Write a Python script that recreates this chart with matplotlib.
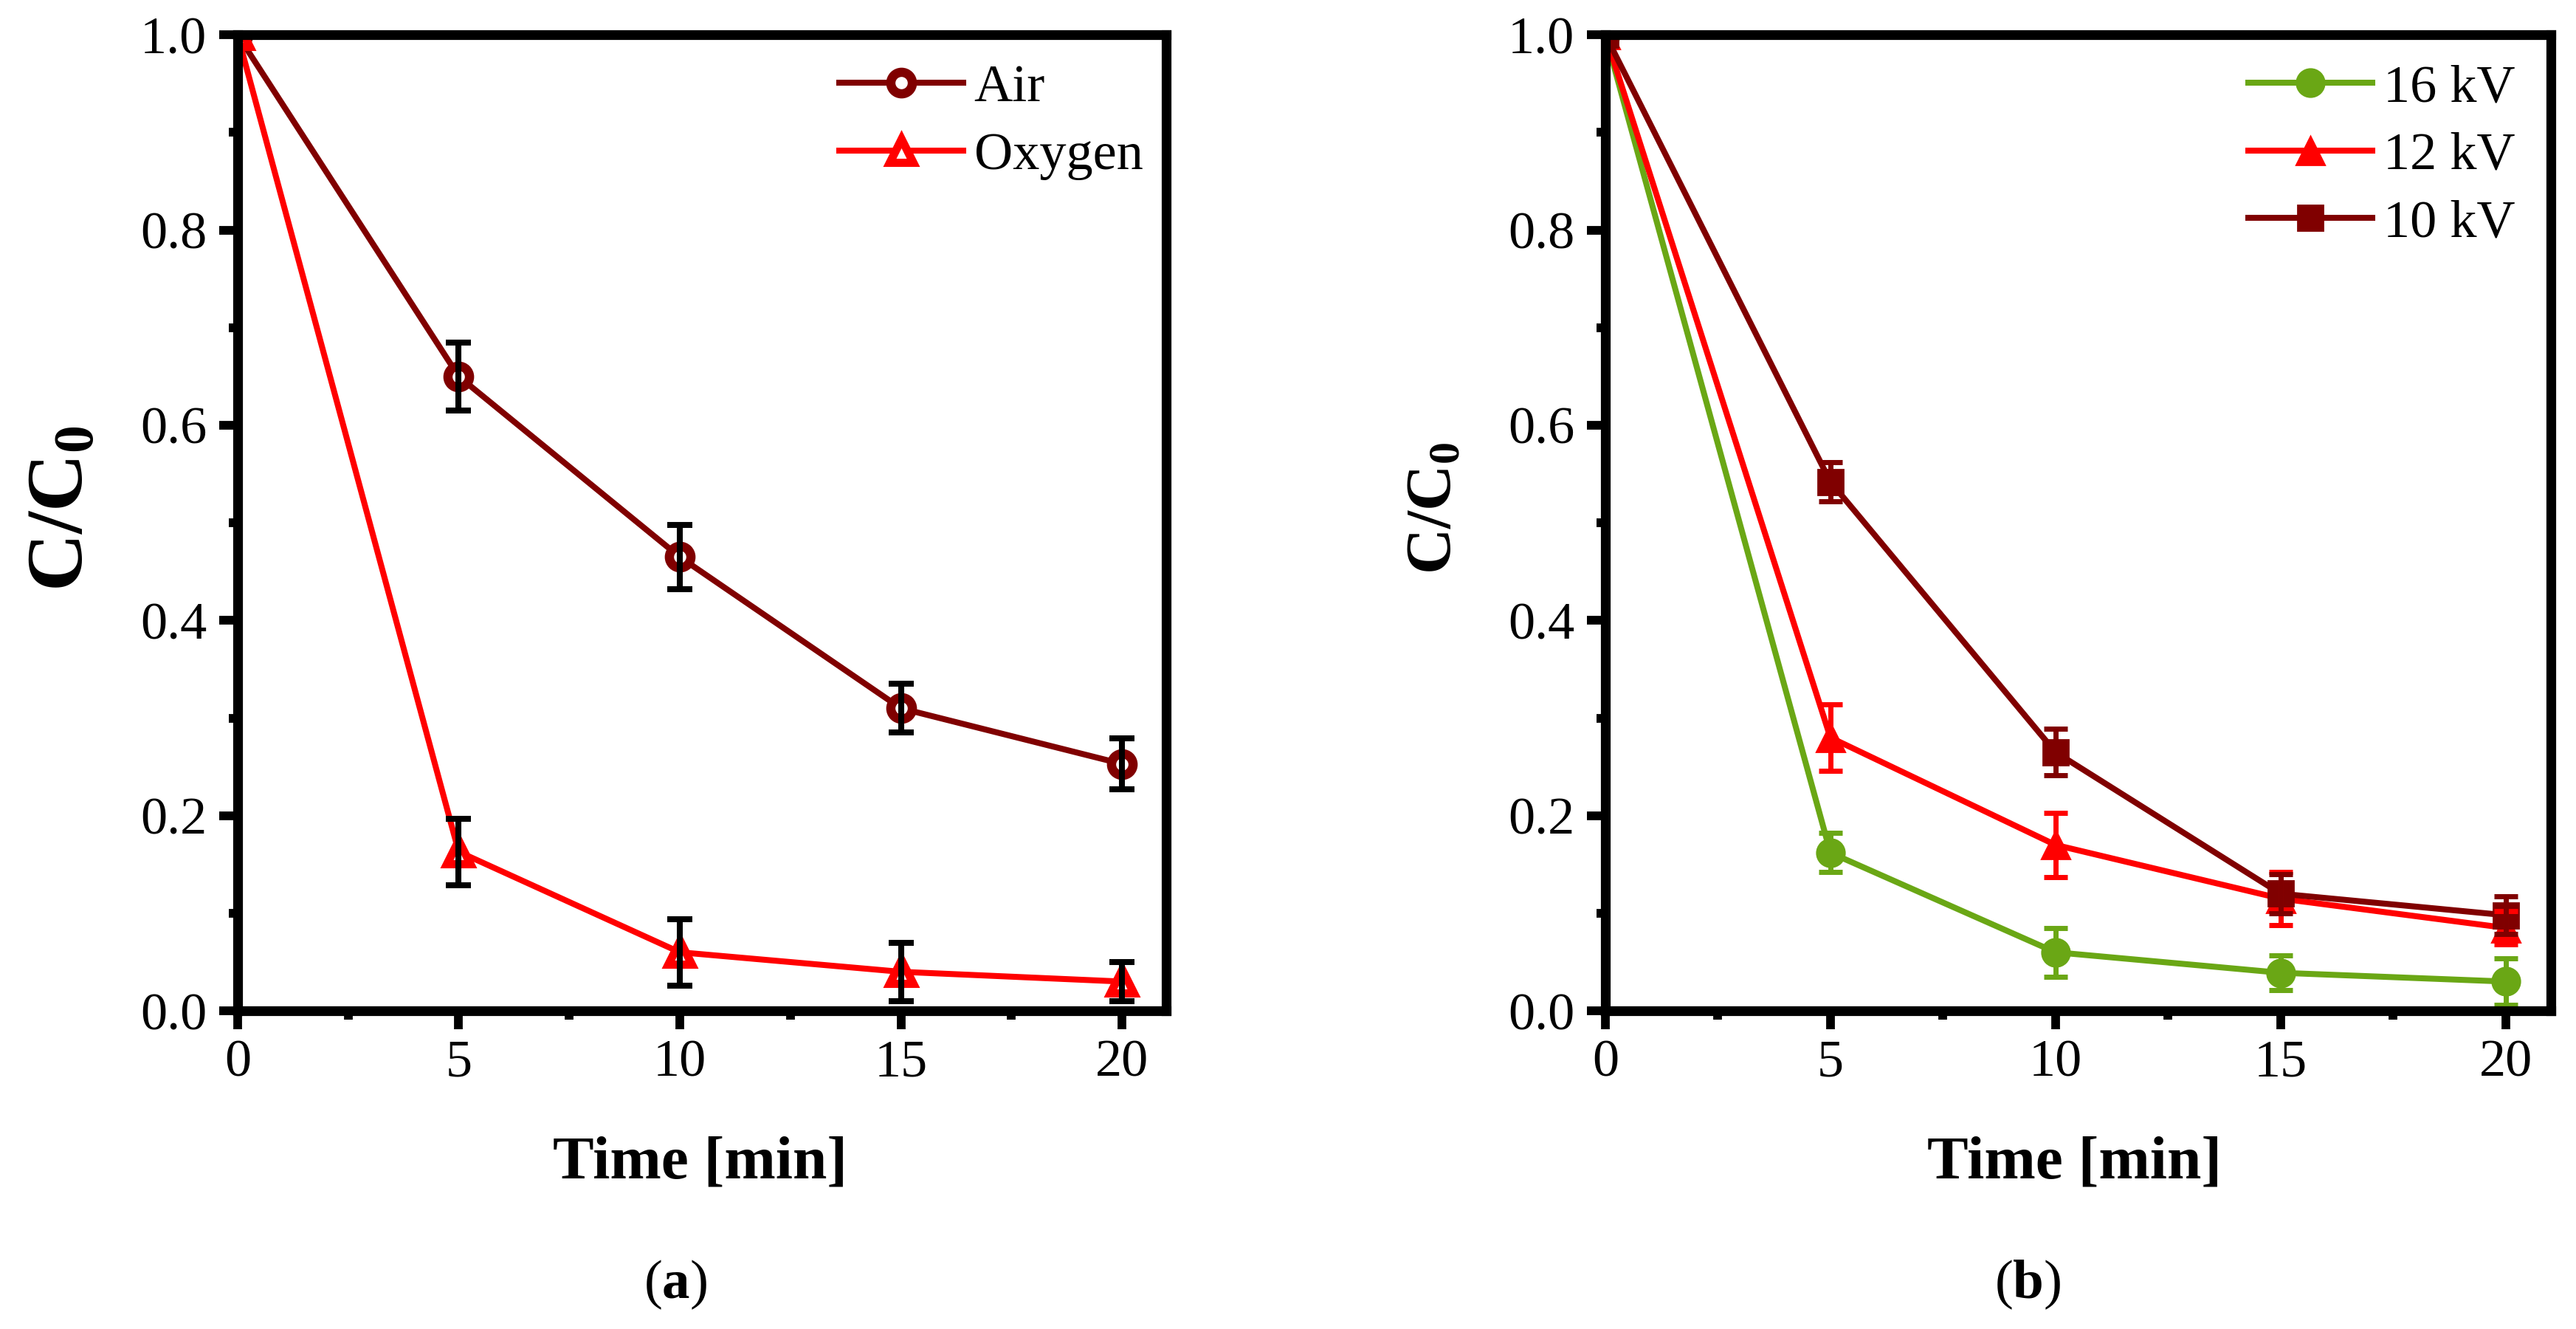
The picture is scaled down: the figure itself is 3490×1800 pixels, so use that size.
import numpy as np
import matplotlib
matplotlib.use('Agg')
import matplotlib.pyplot as plt

plt.rcParams['font.family'] = ['Liberation Serif', 'DejaVu Serif']
plt.rcParams['mathtext.fontset'] = 'custom'
plt.rcParams['mathtext.rm'] = 'Liberation Serif'
plt.rcParams['mathtext.bf'] = 'Liberation Serif:bold'
plt.rcParams['mathtext.it'] = 'Liberation Serif:italic'

# dati
time = [0, 5, 10, 15, 20]

# (a) gas
air = [1.0, 0.65, 0.465, 0.31, 0.253]
air_err = [0.0, 0.035, 0.033, 0.025, 0.026]
oxygen = [1.0, 0.163, 0.06, 0.04, 0.03]
oxygen_err = [0.0, 0.034, 0.034, 0.03, 0.02]

# (b) tensione
kv16 = [1.0, 0.162, 0.06, 0.039, 0.03]
kv16_err = [0.0, 0.02, 0.025, 0.018, 0.024]
kv12 = [1.0, 0.28, 0.17, 0.115, 0.085]
kv12_err = [0.0, 0.034, 0.033, 0.027, 0.017]
kv10 = [1.0, 0.542, 0.265, 0.12, 0.098]
kv10_err = [0.0, 0.02, 0.024, 0.02, 0.019]

DARKRED = '#800000'
RED = '#ff0000'
GREEN = '#6aa715'

fig = plt.figure(figsize=(34.91, 18), dpi=100)
ax1 = fig.add_axes([0.0922, 0.2394, 0.3604, 0.7344])
ax2 = fig.add_axes([0.6230, 0.2394, 0.3669, 0.7344])


def style_axes(ax):
    ax.set_xlim(0, 21)
    ax.set_ylim(0, 1.0)
    ax.set_xticks([0, 5, 10, 15, 20])
    ax.set_xticks([2.5, 7.5, 12.5, 17.5], minor=True)
    ax.set_yticks(np.arange(0, 1.01, 0.2))
    ax.set_yticks(np.arange(0.1, 1.0, 0.2), minor=True)
    ax.set_yticklabels(['0.0', '0.2', '0.4', '0.6', '0.8', '1.0'])
    for s in ax.spines.values():
        s.set_linewidth(9.5)
    ax.tick_params(which='major', direction='out', length=18, width=8.5,
                   labelsize=52, pad=10)
    ax.tick_params(which='minor', direction='out', length=8.5, width=8.5)
    ax.tick_params(axis='y', which='major', pad=12)
    ax.set_xlabel('Time [min]', fontsize=60, fontweight='bold')
    ax.xaxis.label.set_va('baseline')


# ---- (a)
ax1.plot(time, air, color=DARKRED, lw=5.8, marker='o', ms=21, mew=9,
         mfc='white', mec=DARKRED, label='Air', zorder=2)
ax1.plot(time, oxygen, color=RED, lw=5.8, marker='^', ms=23, mew=8,
         mfc='white', mec=RED, label='Oxygen', zorder=2)
ax1.errorbar(time[1:], air[1:], yerr=air_err[1:], fmt='none', ecolor='black',
             elinewidth=5.8, capsize=12, capthick=5.8, zorder=3)
ax1.errorbar(time[1:], oxygen[1:], yerr=oxygen_err[1:], fmt='none', ecolor='black',
             elinewidth=5.8, capsize=12, capthick=5.8, zorder=3)
style_axes(ax1)
ax1.set_ylabel(r'C/C$\mathbf{_0}$', fontsize=78, fontweight='bold')
ax1.yaxis.label.set_va('baseline')
ax1.yaxis.set_label_coords(-0.167, 0.515)
ax1.xaxis.set_label_coords(0.498, -0.171)
ax1.legend(loc='upper right', bbox_to_anchor=(0.975, 0.97), frameon=False,
           fontsize=52, handlelength=2.33, handletextpad=0.2, labelspacing=0.36,
           borderpad=0, borderaxespad=0)

# ---- (b)
ax2.plot(time, kv16, color=GREEN, lw=5.8, marker='o', ms=27, mew=2,
         mfc=GREEN, mec=GREEN, label='16 kV', zorder=2)
ax2.plot(time, kv12, color=RED, lw=5.8, marker='^', ms=28, mew=2,
         mfc=RED, mec=RED, label='12 kV', zorder=2)
ax2.plot(time, kv10, color=DARKRED, lw=5.8, marker='s', ms=24, mew=2,
         mfc=DARKRED, mec=DARKRED, label='10 kV', zorder=2)
for vals, errs, c in [(kv16, kv16_err, GREEN), (kv12, kv12_err, RED),
                      (kv10, kv10_err, DARKRED)]:
    ax2.errorbar(time[1:], vals[1:], yerr=errs[1:], fmt='none', ecolor=c,
                 elinewidth=5, capsize=11.5, capthick=5, zorder=2)
style_axes(ax2)
ax2.set_ylabel(r'C/C$\mathbf{_0}$', fontsize=62, fontweight='bold')
ax2.yaxis.label.set_va('baseline')
ax2.yaxis.set_label_coords(-0.164, 0.515)
ax2.xaxis.set_label_coords(0.496, -0.171)
ax2.legend(loc='upper right', bbox_to_anchor=(0.962, 0.97), frameon=False,
           fontsize=52, handlelength=2.33, handletextpad=0.2, labelspacing=0.36,
           borderpad=0, borderaxespad=0)

fig.text(0.262, 0.0233, r'($\mathbf{a}$)', fontsize=54, ha='center', va='baseline')
fig.text(0.787, 0.0233, r'($\mathbf{b}$)', fontsize=54, ha='center', va='baseline')

fig.savefig('out.png', dpi=100)
